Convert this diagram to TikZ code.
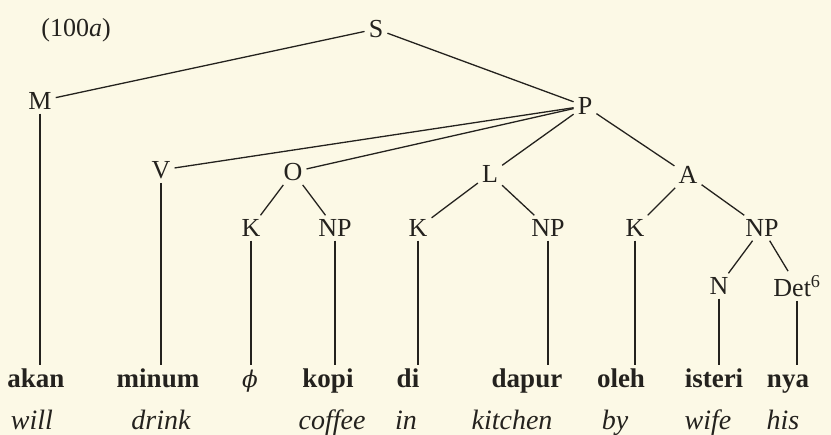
\documentclass[tikz,border=0pt]{standalone}
\usepackage{fontspec}
\setmainfont{Liberation Serif}
\newfontfamily\phifont{DejaVu Serif}
\definecolor{paper}{HTML}{FCF9E6}
\definecolor{ink}{HTML}{24221E}
\begin{document}
\begin{tikzpicture}[x=1pt,y=-1pt,
  cat/.style={inner sep=4pt, font=\fontsize{26}{30}\selectfont, text=ink},
  word/.style={inner sep=3pt, anchor=base, text height=20pt, text depth=5pt,
               font=\fontsize{27}{30}\selectfont\bfseries, text=ink},
  gloss/.style={inner sep=0pt, anchor=base, font=\fontsize{28}{30}\selectfont\itshape, text=ink},
  branch/.style={draw=ink, line width=1.3pt}]
\fill[paper] (0,0) rectangle (831,435);
\useasboundingbox (0,0) rectangle (831,435);

% example number
\node[cat] (ex) at (76,30) {(100\textit{a})};

% category nodes
\node[cat] (S)   at (376,29)  {S};
\node[cat] (M)   at (40,101)  {M};
\node[cat] (P)   at (585,106) {P};
\node[cat] (V)   at (161,170) {V};
\node[cat] (O)   at (293,172) {O};
\node[cat] (L)   at (490,174) {L};
\node[cat] (A)   at (688,175) {A};
\node[cat] (K1)  at (251,228) {K};
\node[cat] (NP1) at (335,228) {NP};
\node[cat] (K2)  at (418,228) {K};
\node[cat] (NP2) at (548,228) {NP};
\node[cat] (K3)  at (635,228) {K};
\node[cat] (NP3) at (762,228) {NP};
\node[cat] (N)   at (719,286) {N};
\node[cat] (Det) at (797,286) {Det\textsuperscript{6}};

% Indonesian words
\node[word] (w1) at (36,388)  {akan};
\node[word] (w2) at (158,388) {minum};
\node[word] (w3) at (250,388) {\phifont\fontsize{23}{30}\selectfont\itshape\mdseries\symbol{"03D5}};
\node[word] (w4) at (328,388) {kopi};
\node[word] (w5) at (408,388) {di};
\node[word] (w6) at (527,388) {dapur};
\node[word] (w7) at (621,388) {oleh};
\node[word] (w8) at (714,388) {isteri};
\node[word] (w9) at (788,388) {nya};

% English glosses
\node[gloss] (g1) at (32,430)  {will};
\node[gloss] (g2) at (161,430) {drink};
\node[gloss] (g3) at (332,430) {coffee};
\node[gloss] (g4) at (406,430) {in};
\node[gloss] (g5) at (512,430) {kitchen};
\node[gloss] (g6) at (615,430) {by};
\node[gloss] (g7) at (708,430) {wife};
\node[gloss] (g8) at (783,430) {his};

% branches
\draw[branch] (S) -- (M);
\draw[branch] (S) -- (P);
\draw[branch] (P) -- (V);
\draw[branch] (P) -- (O);
\draw[branch] (P) -- (L);
\draw[branch] (P) -- (A);
\draw[branch] (O) -- (K1);
\draw[branch] (O) -- (NP1);
\draw[branch] (L) -- (K2);
\draw[branch] (L) -- (NP2);
\draw[branch] (A) -- (K3);
\draw[branch] (A) -- (NP3);
\draw[branch] (NP3) -- (N);
\draw[branch] (NP3) -- (Det);

% vertical lines down to the words
\draw[branch] (M)   -- (M   |- w1.north);
\draw[branch] (V)   -- (V   |- w2.north);
\draw[branch] (K1)  -- (K1  |- w3.north);
\draw[branch] (NP1) -- (NP1 |- w4.north);
\draw[branch] (K2)  -- (K2  |- w5.north);
\draw[branch] (NP2) -- (NP2 |- w6.north);
\draw[branch] (K3)  -- (K3  |- w7.north);
\draw[branch] (N)   -- (N   |- w8.north);
\draw[branch] (Det) -- (Det |- w9.north);
\end{tikzpicture}
\end{document}
